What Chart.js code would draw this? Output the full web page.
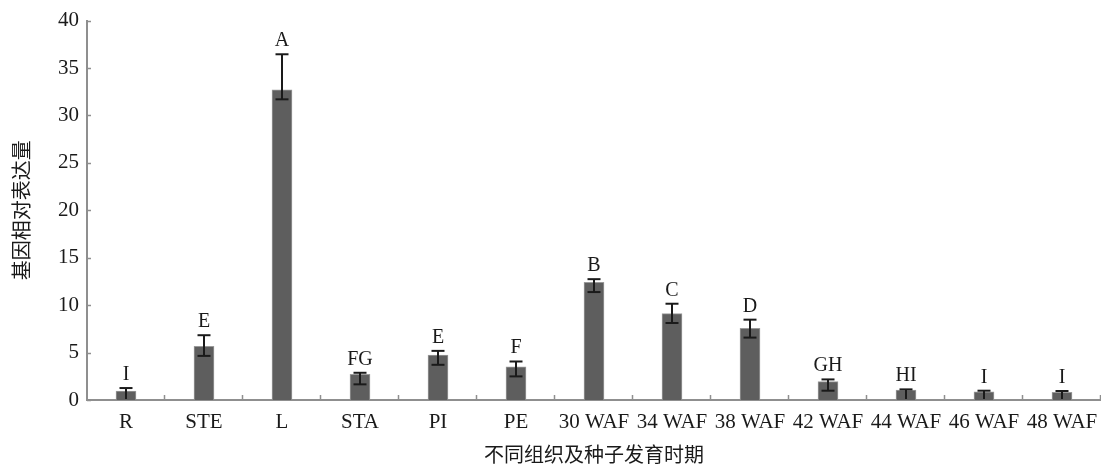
<!DOCTYPE html>
<html>
<head>
<meta charset="utf-8">
<script src="https://cdn.jsdelivr.net/npm/chart.js@4.4.1/dist/chart.umd.min.js"></script>
<style>
html,body{margin:0;padding:0;background:#fff;}
#wrap{width:1101px;height:472px;position:relative;}
</style>
</head>
<body>
<div id="wrap"><canvas id="c" width="1101" height="472"></canvas></div>
<script>
const categories = ['R','STE','L','STA','PI','PE','30 WAF','34 WAF','38 WAF','42 WAF','44 WAF','46 WAF','48 WAF'];
const values     = [0.95, 5.67, 32.7, 2.7, 4.73, 3.5, 12.4, 9.1, 7.56, 1.93, 1.05, 0.87, 0.8];
const errUpper   = [1.26, 6.83, 36.45, 2.87, 5.18, 4.06, 12.74, 10.15, 8.47, 2.17, 1.12, 0.98, 0.95];
const errLower   = [0, 4.65, 31.7, 1.65, 3.71, 2.49, 11.38, 8.12, 6.58, 0.98, 0, 0, 0];
const letters    = ['I','E','A','FG','E','F','B','C','D','GH','HI','I','I'];
const yTicks     = [0,5,10,15,20,25,30,35,40];

const SERIF = "'Liberation Serif','Times New Roman','Noto Sans CJK SC',serif";
const CJK = "'Liberation Serif','Noto Sans CJK SC',serif";

const extras = {
  id: 'extras',
  afterDatasetsDraw(chart) {
    const ctx = chart.ctx;
    const xs = chart.scales.x, ys = chart.scales.y;
    const meta = chart.getDatasetMeta(0);
    ctx.save();
    ctx.strokeStyle = '#8f8f8f';
    ctx.lineWidth = 1.5;
    yTicks.forEach(v => {
      const py = Math.round(ys.getPixelForValue(v)) + 0.5;
      ctx.beginPath(); ctx.moveTo(xs.left, py); ctx.lineTo(xs.left + 4, py); ctx.stroke();
    });
    const n = categories.length;
    const step = (xs.right - xs.left) / n;
    for (let i = 1; i <= n; i++) {
      const px = Math.round(xs.left + i * step) - 0.5;
      ctx.beginPath(); ctx.moveTo(px, ys.bottom); ctx.lineTo(px, ys.bottom - 5); ctx.stroke();
    }
    ctx.strokeStyle = '#1a1a1a';
    ctx.lineWidth = 2;
    meta.data.forEach((bar, i) => {
      const x = bar.x;
      const yT = ys.getPixelForValue(errUpper[i]);
      const yB = ys.getPixelForValue(errLower[i]);
      ctx.beginPath(); ctx.moveTo(x, yT); ctx.lineTo(x, Math.min(yB, ys.bottom - 1)); ctx.stroke();
      ctx.beginPath(); ctx.moveTo(x - 6.5, yT); ctx.lineTo(x + 6.5, yT); ctx.stroke();
      if (errLower[i] > 0.1) {
        ctx.beginPath(); ctx.moveTo(x - 6.5, yB); ctx.lineTo(x + 6.5, yB); ctx.stroke();
      }
      ctx.fillStyle = '#1a1a1a';
      ctx.font = '20px ' + SERIF;
      ctx.textAlign = 'center';
      ctx.textBaseline = 'alphabetic';
      ctx.fillText(letters[i], x, yT - 8);
    });
    ctx.restore();
  }
};

new Chart(document.getElementById('c'), {
  type: 'bar',
  data: {
    labels: categories,
    datasets: [{
      data: values,
      backgroundColor: '#5e5e5e',
      borderColor: '#9a9a9a',
      borderWidth: 1,
      barThickness: 20
    }]
  },
  options: {
    responsive: false,
    animation: false,
    events: [],
    layout: { padding: { top: 19, right: 0, bottom: 0, left: 0 } },
    plugins: { legend: { display: false }, tooltip: { enabled: false } },
    scales: {
      x: {
        offset: true,
        grid: { display: false, drawTicks: true, tickLength: 10 },
        border: { display: true, color: '#8f8f8f', width: 2 },
        ticks: { color: '#1a1a1a', font: { family: SERIF, size: 21 }, padding: 0, maxRotation: 0, autoSkip: false },
        title: { display: true, text: '不同组织及种子发育时期', color: '#1a1a1a', font: { family: CJK, size: 20 }, padding: { top: 3, bottom: 3 } },
        afterFit(s) { s.height = 72; }
      },
      y: {
        min: 0, max: 40,
        grid: { display: false, drawTicks: false },
        border: { display: true, color: '#8f8f8f', width: 2 },
        afterBuildTicks(s) { s.ticks = yTicks.map(v => ({ value: v })); },
        ticks: { color: '#1a1a1a', font: { family: SERIF, size: 21 }, padding: 8 },
        title: { display: true, text: '基因相对表达量', color: '#1a1a1a', font: { family: CJK, size: 20 }, padding: { top: 12, bottom: 12 } },
        afterFit(s) { s.width = 87; }
      }
    }
  },
  plugins: [extras]
});
</script>
</body>
</html>
